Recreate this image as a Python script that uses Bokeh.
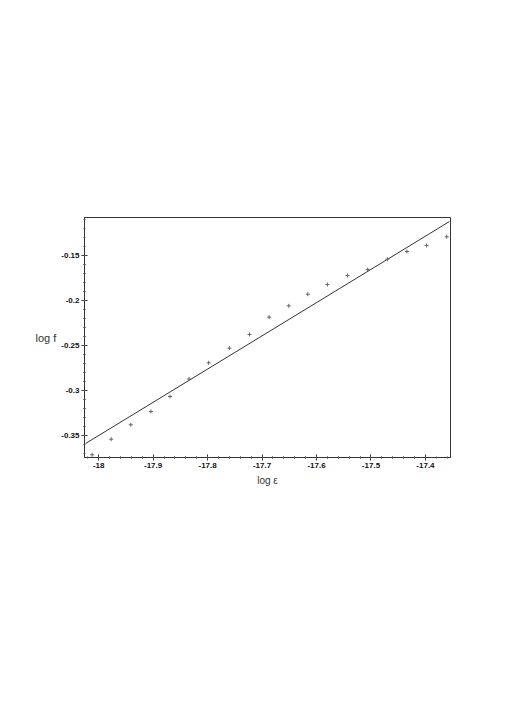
from bokeh.plotting import figure
from bokeh.models import Range1d, FixedTicker
from bokeh.embed import file_html
from bokeh.resources import INLINE

log_eps = [-18.012, -17.977, -17.941, -17.904, -17.869, -17.834, -17.798, -17.760,
           -17.723, -17.687, -17.651, -17.616, -17.580, -17.543, -17.506, -17.470,
           -17.434, -17.398, -17.361]
log_f = [-0.3719, -0.3545, -0.3384, -0.3236, -0.3069, -0.2874, -0.2693, -0.2530,
         -0.2377, -0.2184, -0.2058, -0.1928, -0.1820, -0.1720, -0.1653, -0.1538,
         -0.1452, -0.1385, -0.1288]
fit_x = [-18.024, -17.356]
fit_y = [-0.3593, -0.1118]

x_ticks = [-18.0, -17.9, -17.8, -17.7, -17.6, -17.5, -17.4]
x_tick_labels = ["-18", "-17.9", "-17.8", "-17.7", "-17.6", "-17.5", "-17.4"]
y_ticks = [-0.35, -0.3, -0.25, -0.2, -0.15]
y_tick_labels = ["-0.35", "-0.3", "-0.25", "-0.2", "-0.15"]

p = figure(width=510, height=692, output_backend="svg", toolbar_location=None,
           x_range=Range1d(-18.026, -17.354), y_range=Range1d(-0.3749, -0.1073),
           min_border_left=84, min_border_right=60, min_border_top=217,
           min_border_bottom=235)
p.background_fill_color = "white"
p.border_fill_color = "white"
p.outline_line_color = "#333333"
p.outline_line_width = 1
p.grid.visible = False

p.line(fit_x, fit_y, line_color="#333333", line_width=1)
p.scatter(log_eps, log_f, marker="cross", size=4, line_color="#666666", line_width=1)

for ax, ticks, labels in ((p.xaxis[0], x_ticks, x_tick_labels), (p.yaxis[0], y_ticks, y_tick_labels)):
    minor = []
    step = (ticks[1] - ticks[0]) / 5
    for t in ticks:
        minor.extend([t + k * step for k in range(-5, 6)])
    ax.ticker = FixedTicker(ticks=ticks, minor_ticks=minor)
    ax.major_label_overrides = {t: l for t, l in zip(ticks, labels)}
    ax.major_label_text_font = "Liberation Sans"
    ax.major_label_text_font_size = "8px"
    ax.major_label_text_font_style = "bold"
    ax.major_label_text_color = "#111111"
    ax.axis_line_color = "#333333"
    ax.major_tick_line_color = "#333333"
    ax.minor_tick_line_color = "#555555"
    ax.major_tick_in = 3
    ax.major_tick_out = 3
    ax.minor_tick_in = 1
    ax.minor_tick_out = 1
    ax.major_label_standoff = 2
    ax.axis_label_text_font = "Liberation Sans"
    ax.axis_label_text_font_style = "normal"
    ax.axis_label_text_color = "#333333"

p.xaxis.axis_label = "log ε"
p.xaxis.axis_label_text_font_size = "10px"
p.xaxis.axis_label_standoff = 4

p.yaxis.axis_label = "log f"
p.yaxis.axis_label_text_font_size = "11px"
p.yaxis.axis_label_standoff = 2
try:
    p.yaxis[0].axis_label_orientation = "horizontal"
except Exception:
    pass

open("out.html", "w").write(file_html(p, INLINE))
